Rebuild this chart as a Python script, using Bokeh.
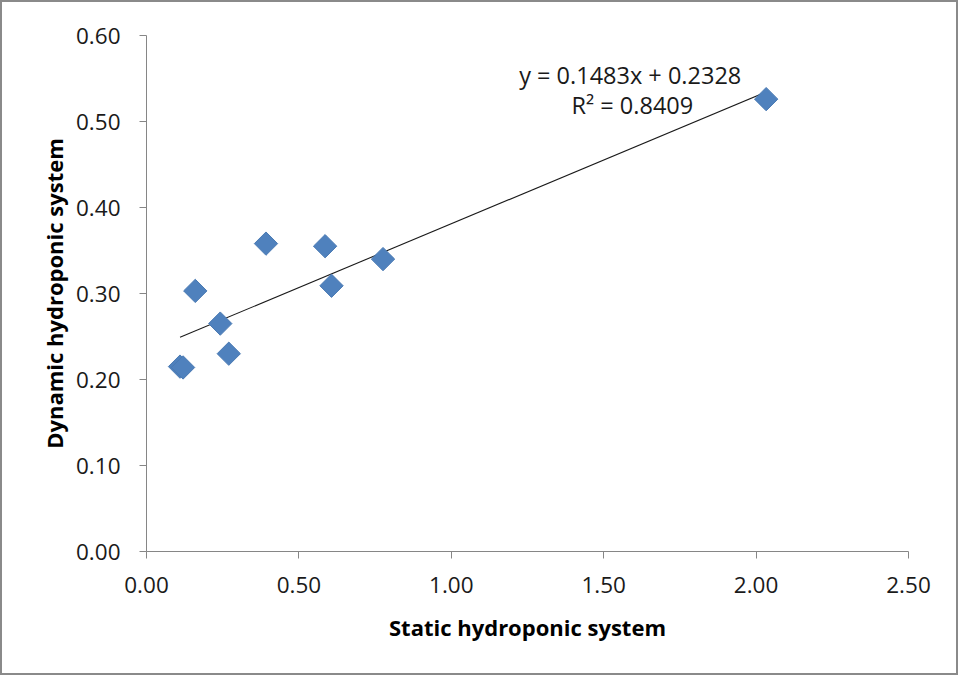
import numpy as np
from bokeh.plotting import figure
from bokeh.models import FixedTicker, NumeralTickFormatter, Range1d, Label, ColumnDataSource
from bokeh.embed import file_html
from bokeh.resources import INLINE

# Data
static_x = [0.11, 0.12, 0.16, 0.242, 0.270, 0.392, 0.586, 0.607, 0.776, 2.033]
dynamic_y = [0.215, 0.214, 0.303, 0.265, 0.230, 0.358, 0.355, 0.309, 0.340, 0.526]
slope = 0.1483
intercept = 0.2328
r2 = 0.8409
x_ticks = [0.0, 0.5, 1.0, 1.5, 2.0, 2.5]
y_ticks = [0.0, 0.1, 0.2, 0.3, 0.4, 0.5, 0.6]

FONT = "Open Sans"
AXIS_COL = "#868686"

p = figure(width=954, height=671, output_backend="svg", toolbar_location=None,
           x_range=Range1d(0, 2.5), y_range=Range1d(0, 0.6),
           min_border_left=144, min_border_top=33, min_border_right=48, min_border_bottom=122)
p.frame_width = 762
p.frame_height = 516
p.outline_line_color = None
p.grid.grid_line_color = None
p.background_fill_color = "white"
p.border_fill_color = "white"
p.styles = {"border": "2px solid #8a8a8a", "box-sizing": "border-box"}

# trend line (from stated regression)
xf = np.array([min(static_x), max(static_x)])
p.line(xf, slope * xf + intercept, line_color="#1a1a1a", line_width=1.1)

src = ColumnDataSource(dict(x=static_x, y=dynamic_y))
p.scatter("x", "y", source=src, marker="square", angle=np.pi / 4, size=16.5,
          fill_color="#4f81bd", line_color="#4a7ab3", line_width=1)

for ax in (p.xaxis[0], p.yaxis[0]):
    ax.axis_line_color = AXIS_COL
    ax.major_tick_line_color = AXIS_COL
    ax.minor_tick_line_color = None
    ax.major_tick_out = 7
    ax.major_tick_in = 0
    ax.major_label_text_font = FONT
    ax.major_label_text_font_size = "22.5px"
    ax.major_label_text_color = "#1a1a1a"
    ax.axis_label_text_font = FONT
    ax.axis_label_text_font_style = "bold"
    ax.axis_label_text_font_size = "22px"
    ax.axis_label_text_color = "#000000"
    ax.formatter = NumeralTickFormatter(format="0.00")

p.xaxis[0].ticker = FixedTicker(ticks=x_ticks)
p.yaxis[0].ticker = FixedTicker(ticks=y_ticks)
p.xaxis[0].axis_label = "Static hydroponic system"
p.yaxis[0].axis_label = "Dynamic hydroponic system"
p.xaxis[0].major_label_standoff = 18
p.yaxis[0].major_label_standoff = 19
p.xaxis[0].axis_label_standoff = 16
p.yaxis[0].axis_label_standoff = 4

eq1 = "y = %.4fx + %.4f" % (slope, intercept)
eq2 = "R\u00b2 = %.4f" % r2
p.add_layout(Label(x=1.587, y=0.554, text=eq1, text_font=FONT, text_font_size="23.5px",
                   text_align="center", text_baseline="middle", text_color="#1a1a1a"))
p.add_layout(Label(x=1.594, y=0.5195, text=eq2, text_font=FONT, text_font_size="23.5px",
                   text_align="center", text_baseline="middle", text_color="#1a1a1a"))

open("out.html", "w").write(file_html(p, INLINE))
